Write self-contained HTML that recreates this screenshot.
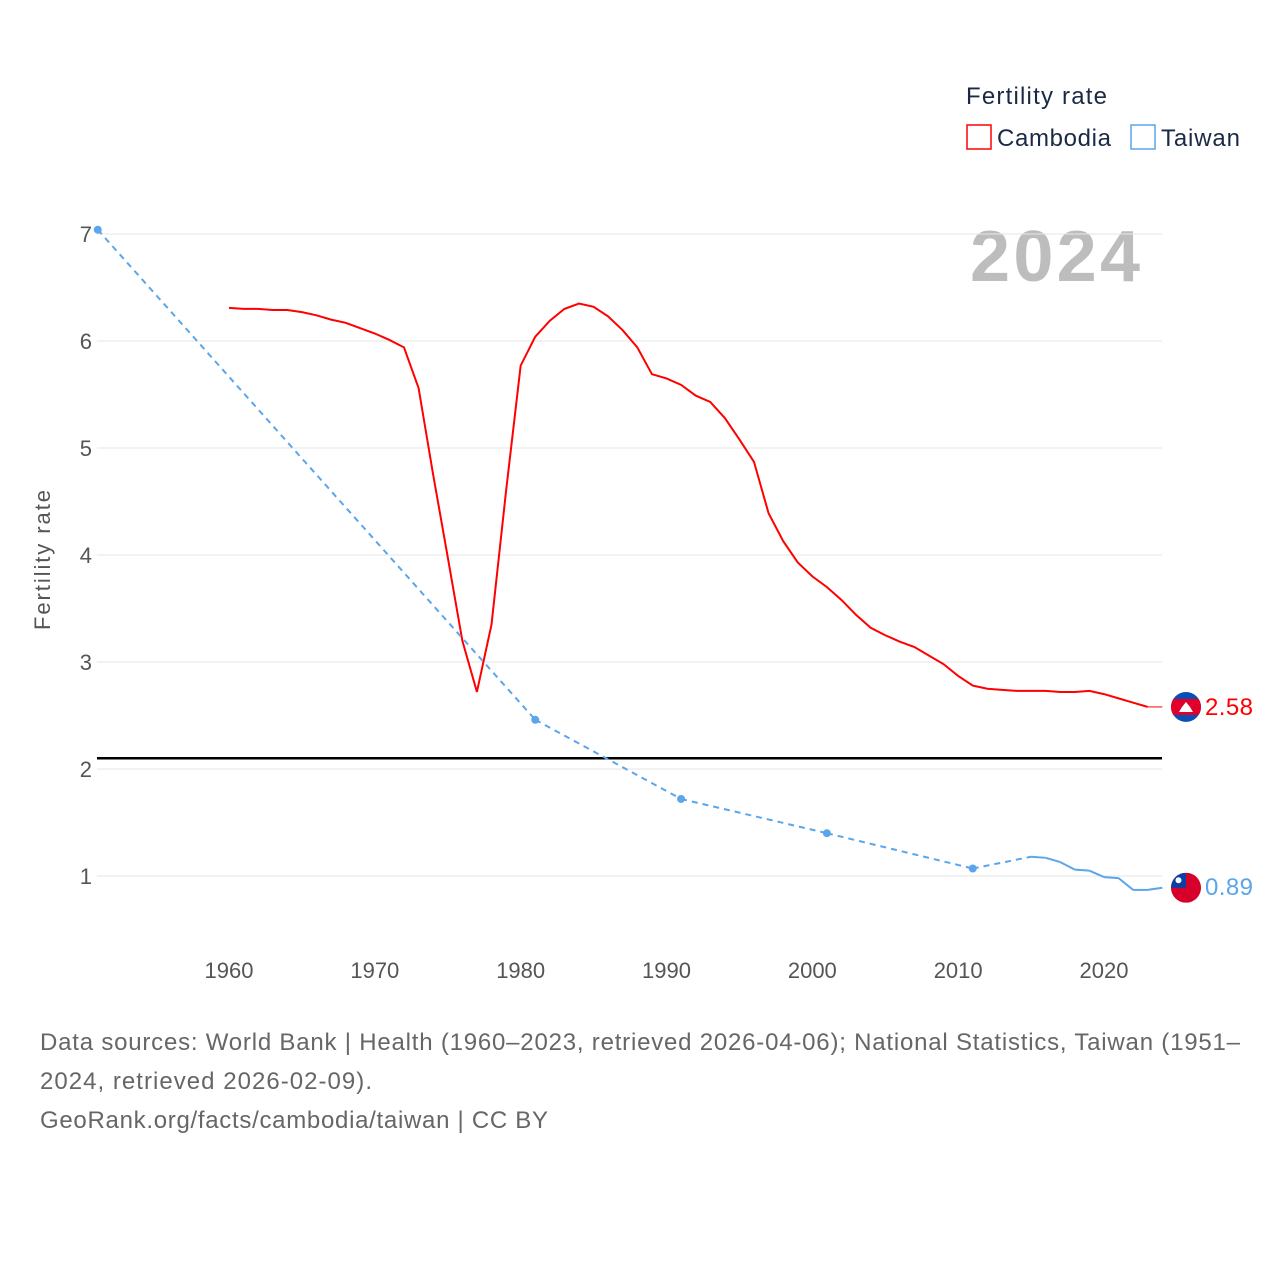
<!DOCTYPE html>
<html><head><meta charset="utf-8"><style>
body{margin:0;background:#fff;font-family:"Liberation Sans",sans-serif}
svg text{font-family:"Liberation Sans",sans-serif}
</style></head><body>
<svg id="chart" width="1280" height="1280" xmlns="http://www.w3.org/2000/svg">
<text x="966" y="104" font-size="24" fill="#1a2a44" textLength="141">Fertility rate</text>
<g><rect x="967" y="125" width="24" height="24" fill="none" stroke="#f00" stroke-width="1.5"/><text x="997" y="146" font-size="24" fill="#1a2a44" textLength="114">Cambodia</text></g>
<g><rect x="1131" y="125" width="24" height="24" fill="none" stroke="#5aa5ec" stroke-width="1.5"/><text x="1161" y="146" font-size="24" fill="#1a2a44" textLength="79">Taiwan</text></g>
<text x="970" y="281" font-size="72" font-weight="bold" fill="#bdbdbd" textLength="170">2024</text>
<text transform="translate(50,560) rotate(-90)" font-size="22" fill="#555" text-anchor="middle" textLength="140">Fertility rate</text>
<g id="grid"></g><g id="series"></g>
<text x="40" y="1050" font-size="24" fill="#666" textLength="1200">Data sources: World Bank | Health (1960–2023, retrieved 2026-04-06); National Statistics, Taiwan (1951–</text>
<text x="40" y="1089" font-size="24" fill="#666" textLength="332">2024, retrieved 2026-02-09).</text>
<text x="40" y="1128" font-size="24" fill="#666" textLength="508">GeoRank.org/facts/cambodia/taiwan | CC BY</text>
</svg>
<script>
const yTicks=[1,2,3,4,5,6,7];
const xTicks=[1960,1970,1980,1990,2000,2010,2020];
const camYears=[];for(let y=1960;y<=2023;y++)camYears.push(y);
const camValues=[6.31,6.30,6.30,6.29,6.29,6.27,6.24,6.20,6.17,6.12,6.07,6.01,5.94,5.56,4.75,3.98,3.2,2.72,3.35,4.6,5.77,6.04,6.19,6.30,6.35,6.32,6.23,6.10,5.94,5.69,5.65,5.59,5.49,5.43,5.28,5.08,4.87,4.39,4.13,3.93,3.80,3.70,3.58,3.44,3.32,3.25,3.19,3.14,3.06,2.98,2.87,2.78,2.75,2.74,2.73,2.73,2.73,2.72,2.72,2.73,2.70,2.66,2.62,2.58];
const twYears=[1951,1981,1991,2001,2011,2015,2016,2017,2018,2019,2020,2021,2022,2023,2024];
const twValues=[7.04,2.46,1.72,1.40,1.07,1.18,1.17,1.13,1.06,1.05,0.99,0.98,0.87,0.87,0.89];
const replacement=2.1;
const X=yr=>229+(yr-1960)*(875/60);
const Y=v=>876-(v-1)*107;
const NS='http://www.w3.org/2000/svg';
function mk(t,a,p){const e=document.createElementNS(NS,t);for(const k in a)e.setAttribute(k,a[k]);p.appendChild(e);return e;}
const g=document.getElementById('grid'),s=document.getElementById('series');
yTicks.forEach(v=>{
 const l=mk('line',{x1:97,x2:1162,y1:Y(v),y2:Y(v),stroke:'#e6e6e6','stroke-width':1},g);
 
 
 const t=mk('text',{x:92,y:Y(v)+8,'font-size':22,fill:'#555','text-anchor':'end'},g);t.textContent=v;
 
 
});
xTicks.forEach(v=>{
 const t=mk('text',{x:X(v),y:978,'font-size':22,fill:'#555','text-anchor':'middle'},g);t.textContent=v;
 
 
});
const rl=mk('line',{x1:97,x2:1162,y1:Y(replacement),y2:Y(replacement),stroke:'#000','stroke-width':2.5},g);


const cp=mk('path',{d:camYears.map((y,i)=>(i?'L':'M')+X(y)+','+Y(camValues[i])).join(''),fill:'none',stroke:'#f00','stroke-width':2},s);


const last=camValues[camValues.length-1];
const ce=mk('line',{x1:X(2023),x2:X(2024),y1:Y(last),y2:Y(last),stroke:'#f00','stroke-width':1},s);


for(let i=1;i<twYears.length;i++){
 const gap=twYears[i]-twYears[i-1]>1;
 const l=mk('line',{x1:X(twYears[i-1]),y1:Y(twValues[i-1]),x2:X(twYears[i]),y2:Y(twValues[i]),stroke:'#5aa5ec','stroke-width':2,'stroke-dasharray':gap?'6,5':'none'},s);
 
 
}
for(let i=0;i<twYears.length-1;i++){
 if(twYears[i+1]-twYears[i]>1){
  const c=mk('circle',{cx:X(twYears[i]),cy:Y(twValues[i]),r:4,fill:'#5aa5ec'},s);
  
  
 }
}
const fx=1186;
function flagCam(cy){
 const gr=mk('g',{},s);
 
 
 mk('clipPath',{id:'cc'},gr);
 mk('circle',{cx:fx,cy:cy,r:15},gr.lastChild);
 const inner=mk('g',{'clip-path':'url(#cc)'},gr);
 mk('rect',{x:fx-15,y:cy-15,width:30,height:30,fill:'#0a4fb3'},inner);
 mk('rect',{x:fx-15,y:cy-8,width:30,height:16,fill:'#e0002a'},inner);
 mk('path',{d:`M${fx-7},${cy+5}L${fx-4},${cy}L${fx},${cy-5}L${fx+4},${cy}L${fx+7},${cy+5}Z`,fill:'#fff'},inner);
 const t=mk('text',{x:1205,y:cy+8,'font-size':24,fill:'#f00',textLength:48},s);t.textContent=last.toFixed(2);
 
 
}
function flagTw(cy){
 const gr=mk('g',{},s);
 
 
 mk('clipPath',{id:'tc'},gr);
 mk('circle',{cx:fx,cy:cy,r:15},gr.lastChild);
 const inner=mk('g',{'clip-path':'url(#tc)'},gr);
 mk('rect',{x:fx-15,y:cy-15,width:30,height:30,fill:'#d7002a'},inner);
 mk('rect',{x:fx-15,y:cy-15,width:15,height:15,fill:'#0a3fa8'},inner);
 mk('circle',{cx:fx-7.5,cy:cy-7.5,r:3,fill:'#fff'},inner);
 const t=mk('text',{x:1205,y:cy+7,'font-size':24,fill:'#5aa5ec',textLength:48},s);t.textContent=twValues[twValues.length-1].toFixed(2);
 
 
}
flagCam(Y(last));
flagTw(Y(twValues[twValues.length-1]));
</script>
</body></html>
